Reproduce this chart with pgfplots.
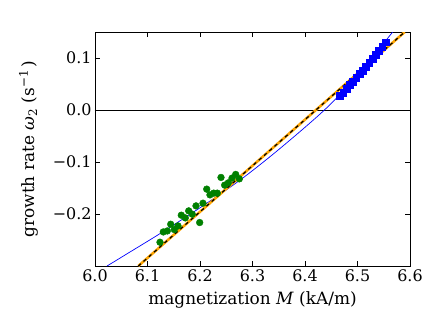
\documentclass[border=0pt]{standalone}
\usepackage{fontspec}
\setmainfont{DejaVu Serif}
\usepackage{pgfplots}
\pgfplotsset{compat=1.18}
\definecolor{mplgreen}{RGB}{0,128,0}
\definecolor{mplblue}{RGB}{0,0,255}
\definecolor{mplorange}{RGB}{255,165,0}
\begin{document}
\begin{tikzpicture}
\begin{axis}[
    scale only axis,
    width=315bp, height=234bp,
    xmin=6.0, xmax=6.6, ymin=-0.30, ymax=0.15,
    xtick={6.0,6.1,6.2,6.3,6.4,6.5,6.6},
    xticklabels={6.0,6.1,6.2,6.3,6.4,6.5,6.6},
    ytick={-0.2,-0.1,0,0.1},
    yticklabels={−0.2,−0.1,0.0,0.1},
    tick align=inside,
    major tick length=5bp,
    tick style={black, line width=0.5pt},
    axis line style={line width=1pt},
    tick label style={font=\fontsize{16}{16}\selectfont},
    label style={font=\fontsize{17}{17}\selectfont},
    xlabel={magnetization \textit{M} (kA/m)},
    ylabel={growth rate \textit{ω}\textsubscript{2} (s\textsuperscript{−1}\,)},
    xlabel style={yshift=-3bp},
    ylabel style={yshift=8bp},
    clip=true,
]
% zero line
\addplot[black, line width=0.8pt] coordinates {(6.0,0) (6.6,0)};
% model curve
\addplot[mplblue, line width=0.7pt, smooth] coordinates {
    (6.023,-0.300) (6.070,-0.271) (6.124,-0.2376) (6.200,-0.188)
    (6.276,-0.135) (6.350,-0.076) (6.437,0.000) (6.500,0.067) (6.567,0.150)
};
% linear fits
\addplot[mplorange, line width=2.6pt] coordinates {(6.0825,-0.30) (6.590,0.15)};
\addplot[black, line width=1.2pt, dash pattern=on 3.5pt off 3.5pt] coordinates {(6.0825,-0.30) (6.590,0.15)};
% measurements, low M
\addplot[only marks, mark=*, mark size=3.4bp, mplgreen, mark options={draw=mplgreen, fill=mplgreen}] coordinates {
    (6.1238,-0.2543) (6.1301,-0.2345) (6.1377,-0.2326) (6.1442,-0.2197)
    (6.1510,-0.2299) (6.1581,-0.2229) (6.1644,-0.2023) (6.1720,-0.2075)
    (6.1785,-0.1940) (6.1853,-0.2004) (6.1924,-0.1844) (6.1994,-0.2164)
    (6.2057,-0.1792) (6.2128,-0.1522) (6.2190,-0.1632) (6.2261,-0.1599)
    (6.2330,-0.1599) (6.2400,-0.1297) (6.2470,-0.1445) (6.2539,-0.1401)
    (6.2610,-0.1310) (6.2680,-0.1239) (6.2749,-0.1324)
};
% measurements, high M
\addplot[only marks, mark=square*, mark size=3.4bp, mplblue, mark options={draw=mplblue, fill=mplblue}] coordinates {
    (6.4667,0.0276) (6.4729,0.0337) (6.4790,0.0414) (6.4852,0.0482)
    (6.4914,0.0549) (6.4976,0.0626) (6.5038,0.0694) (6.5100,0.0761)
    (6.5162,0.0838) (6.5224,0.0909) (6.5286,0.0983) (6.5348,0.1056)
    (6.5410,0.1137) (6.5471,0.1224) (6.5533,0.1304)
};
\end{axis}
\pgfresetboundingbox
\path ([shift={(-95bp,-59bp)}]current axis.south west) rectangle ([shift={(21bp,32bp)}]current axis.north east);
\end{tikzpicture}
\end{document}
